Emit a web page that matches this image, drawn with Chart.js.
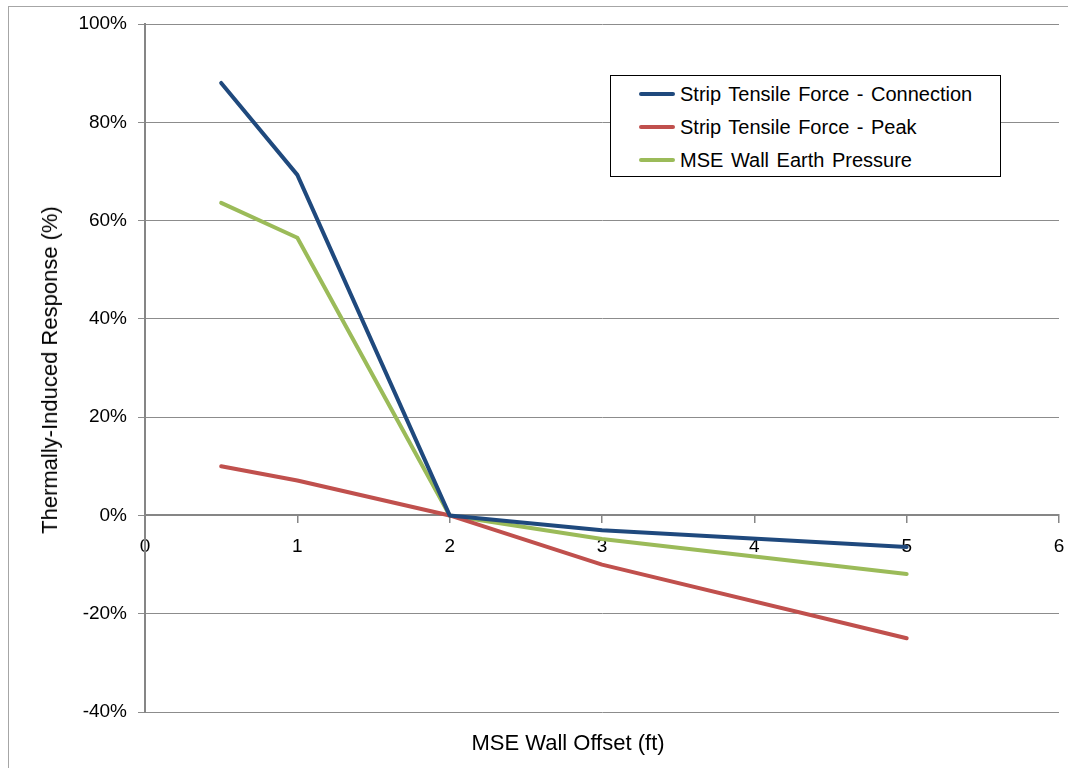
<!DOCTYPE html>
<html>
<head>
<meta charset="utf-8">
<script src="https://cdn.jsdelivr.net/npm/chart.js@4"></script>
<style>
  html, body { margin: 0; padding: 0; background: #fff; }
  #wrap { position: relative; width: 1068px; height: 768px; overflow: hidden; font-family: "Liberation Sans", Arial, sans-serif; }
  #frame { position: absolute; left: 8px; top: 6px; width: 1100px; height: 800px; border-left: 1px solid #a6a6a6; border-top: 1px solid #a6a6a6; }
  canvas { position: absolute; left: 0; top: 0; }
  .axis-title { position: absolute; font-size: 22px; color: #000; white-space: nowrap; }
  #ytitle { left: 50px; top: 370px; transform: translate(-50%, -50%) rotate(-90deg); }
  #xtitle { left: 568px; top: 743px; transform: translate(-50%, -50%); }
  #legend { position: absolute; left: 610px; top: 75px; width: 389px; height: 100px; border: 1px solid #000; background: #fff; }
  .item { position: absolute; left: 0; height: 24px; display: flex; align-items: center; font-size: 20px; color: #000; white-space: nowrap; word-spacing: 2px; }
  .swatch { width: 36px; height: 4px; border-radius: 2px; margin-left: 28px; margin-right: 5px; }
</style>
</head>
<body>
<div id="wrap">
  <div id="frame"></div>
  <canvas id="chart" width="1068" height="768"></canvas>
  <div id="ytitle" class="axis-title">Thermally-Induced Response (%)</div>
  <div id="xtitle" class="axis-title">MSE Wall Offset (ft)</div>
  <div id="legend"></div>
</div>
<script>
// MSE wall offset (ft)
const offsets = [0.5, 1, 2, 3, 5];
// Thermally-induced response (%)
const connectionForce = [88.0, 69.3, 0, -3.0, -6.4];
const peakForce = [10.0, 7.1, 0, -10.0, -25.0];
const earthPressure = [63.6, 56.5, 0, -4.8, -11.9];

const seriesNames = [
  'Strip Tensile Force - Connection',
  'Strip Tensile Force - Peak',
  'MSE Wall Earth Pressure'
];
const seriesColors = ['#1F497D', '#C0504D', '#9BBB59'];

const xTicks = [0, 1, 2, 3, 4, 5, 6];
const yTicks = [-40, -20, 0, 20, 40, 60, 80, 100];

const toPoints = (vals) => offsets.map((x, i) => ({ x: x, y: vals[i] }));

const datasets = [connectionForce, peakForce, earthPressure].map((vals, i) => ({
  label: seriesNames[i],
  data: toPoints(vals),
  borderColor: seriesColors[i],
  backgroundColor: seriesColors[i],
  borderWidth: 4,
  pointRadius: 0,
  tension: 0,
  borderCapStyle: 'round',
  borderJoinStyle: 'round'
}));

const tickFont = { family: '"Liberation Sans", Arial, sans-serif', size: 19 };

const chart = new Chart(document.getElementById('chart'), {
  type: 'line',
  data: { datasets: datasets },
  options: {
    responsive: false,
    animation: false,
    layout: { padding: { left: 0, right: 9, top: 24, bottom: 56 } },
    plugins: {
      legend: { display: false },
      tooltip: { enabled: false },
      title: { display: false }
    },
    scales: {
      x: {
        type: 'linear',
        position: { y: 0 },
        min: xTicks[0],
        max: xTicks[xTicks.length - 1],
        afterBuildTicks: (s) => { s.ticks = xTicks.map(v => ({ value: v })); },
        afterFit: (s) => { s.height = 0; s.paddingLeft = 0; s.paddingRight = 0; },
        ticks: { font: tickFont, color: '#000', padding: 13, maxRotation: 0, autoSkip: false },
        grid: { drawOnChartArea: false, drawTicks: true, tickLength: 7, color: '#868686', lineWidth: 1.5 },
        border: { color: '#868686', width: 2 }
      },
      y: {
        type: 'linear',
        min: yTicks[0],
        max: yTicks[yTicks.length - 1],
        afterBuildTicks: (s) => { s.ticks = yTicks.map(v => ({ value: v })); },
        afterFit: (s) => { s.width = 145; },
        ticks: { font: tickFont, color: '#000', padding: 11, callback: (v) => v + '%' },
        grid: { color: '#8c8c8c', lineWidth: 1, tickLength: 7, drawTicks: true },
        border: { color: '#868686', width: 2 }
      }
    }
  }
});

// Legend box built from the chart's own datasets
const legend = document.getElementById('legend');
chart.data.datasets.forEach((ds, i) => {
  const row = document.createElement('div');
  row.className = 'item';
  row.style.top = (6 + i * 33) + 'px';
  const sw = document.createElement('span');
  sw.className = 'swatch';
  sw.style.background = ds.borderColor;
  const label = document.createElement('span');
  label.textContent = ds.label;
  row.appendChild(sw);
  row.appendChild(label);
  legend.appendChild(row);
});
</script>
</body>
</html>
